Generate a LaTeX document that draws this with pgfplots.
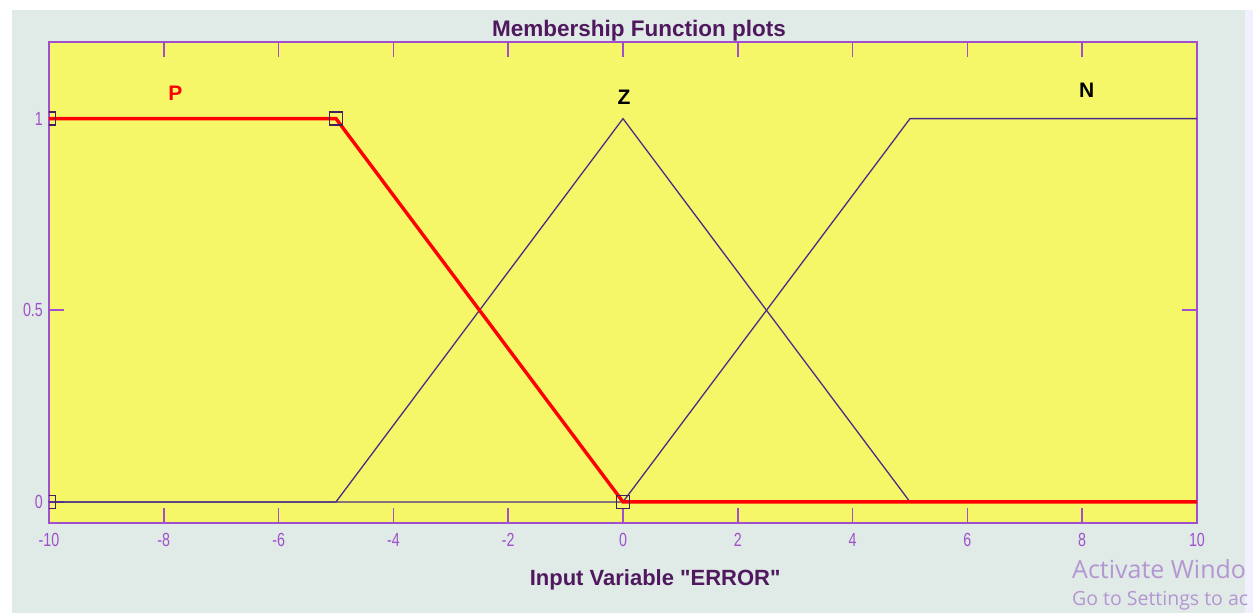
\documentclass[border=0pt]{standalone}
\usepackage{pgfplots}
\pgfplotsset{compat=1.18}
\usepackage{fontspec}
\setmainfont{Liberation Sans}
\newfontfamily\lblfont{Liberation Sans}
\newfontfamily\wmfont{Open Sans}

\definecolor{bggray}{RGB}{224,234,230}
\definecolor{plotyellow}{RGB}{245,247,105}
\definecolor{axpurple}{RGB}{160,80,205}
\definecolor{txtpurple}{RGB}{80,25,95}
\definecolor{mfline}{RGB}{75,45,135}
\definecolor{mkcol}{RGB}{70,30,90}
\definecolor{wmcol}{RGB}{180,150,210}

\begin{document}
\begin{tikzpicture}
% page frame and figure background (1pt = 1px of the reference)
\useasboundingbox (-49pt,-90pt) rectangle (1204pt,523pt);
\fill[white] (-49pt,-90pt) rectangle (1204pt,523pt);
\fill[white!94!blue] (1196pt,-90pt) rectangle (1204pt,513pt);
\fill[bggray] (-37pt,-90pt) rectangle (1196pt,513pt);

\begin{axis}[at={(0,0)}, anchor=south west,
             scale only axis,
             width=1148pt, height=481pt,
             xmin=-10, xmax=10,
             ymin=-0.055, ymax=1.2,
             xtick={-10,-8,...,10},
             ytick={0,0.5,1},
             yticklabels={0,0.5,1},
             tick align=inside,
             xtick pos=both, ytick pos=both,
             major tick length=15pt,
             axis line style={axpurple, line width=1.6pt},
             tick style={axpurple, line width=1.6pt},
             axis background/.style={fill=plotyellow},
             ticklabel style={text=axpurple, font=\fontsize{19}{19}\selectfont, xscale=0.75},
             xticklabel style={anchor=north, inner sep=0pt, yshift=-10pt},
             yticklabel style={anchor=east, inner sep=0pt, xshift=-8pt},
             /pgf/number format/assume math mode=true,
             title={Membership Function plots},
             title style={at={(0.514,1)}, anchor=south, inner sep=0pt, yshift=-5pt,
                          text=txtpurple, font=\bfseries\fontsize{22.5}{22.5}\selectfont},
             xlabel={Input Variable "ERROR"},
             xlabel style={at={(axis description cs:0.528,0)}, anchor=north, inner sep=0pt,
                           yshift=-46pt, text=txtpurple,
                           font=\lblfont\bfseries\fontsize{22}{22}\selectfont},
             clip marker paths=true]

% Z: triangle
\addplot[mfline, line width=1.3pt] coordinates {
  (-10,0) (-5,0) (0,1) (5,0) (10,0)
};
% N: trapezoid
\addplot[mfline, line width=1.3pt] coordinates {
  (-10,0) (0,0) (5,1) (10,1)
};
% P: selected membership function
\addplot[red, line width=3.4pt] coordinates {
  (-10,1) (-5,1) (0,0) (10,0)
};
% parameter handles of P
\addplot[only marks, mark=square, mark size=6.5pt,
         mark options={draw=mkcol, line width=1.3pt}] coordinates {
  (-10,0) (-10,1) (-5,1) (0,0)
};

\node[text=red, font=\bfseries\fontsize{21}{21}\selectfont] at (axis cs:-7.8,1.065) {P};
\node[text=black, font=\bfseries\fontsize{21}{21}\selectfont] at (axis cs:0.02,1.057) {Z};
\node[text=black, font=\bfseries\fontsize{21}{21}\selectfont] at (axis cs:8.08,1.073) {N};
\end{axis}

% watermark, as much of it as the reference shows
\node[anchor=base west, inner sep=0pt, text=wmcol, font=\wmfont\fontsize{25}{25}\selectfont]
  at (1023pt,-56pt) {Activate Windo};
\node[anchor=base west, inner sep=0pt, text=wmcol, font=\wmfont\fontsize{19.5}{19.5}\selectfont]
  at (1023pt,-82pt) {Go to Settings to ac};
\end{tikzpicture}
\end{document}
